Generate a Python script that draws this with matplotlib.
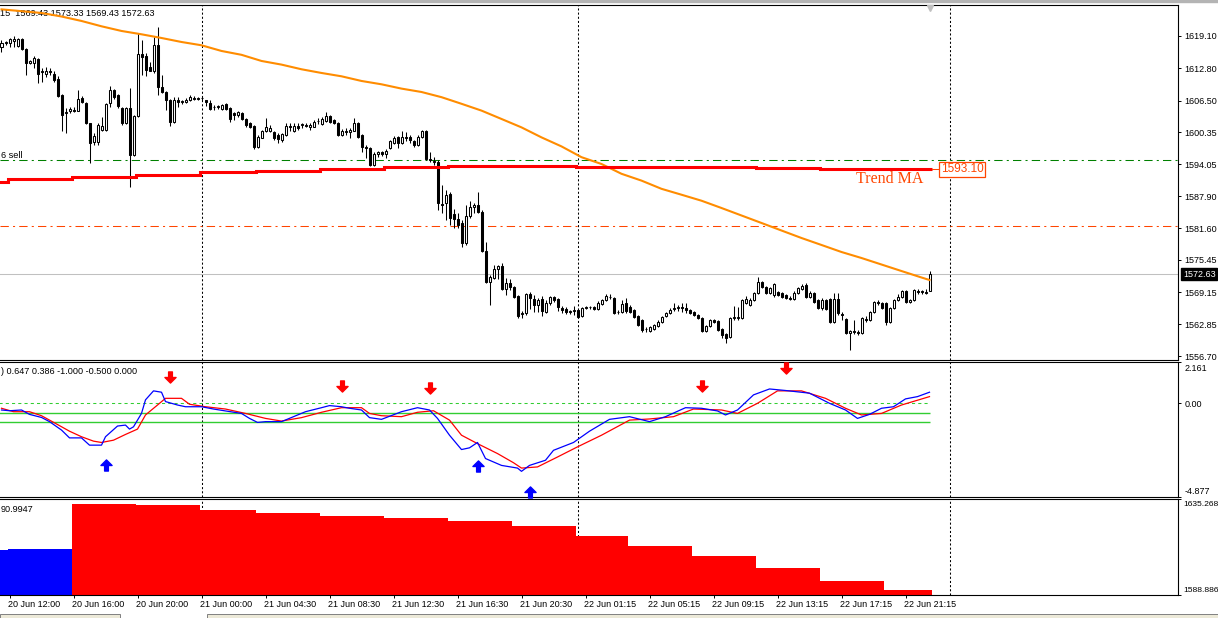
import numpy as np
import matplotlib
matplotlib.use('Agg')
import matplotlib.pyplot as plt
import matplotlib.transforms as mtransforms
from matplotlib.path import Path
from matplotlib.patches import Rectangle

# ---- price candles (M15), one value per bar ----
opens = [
    1616.9, 1617.7, 1617.7, 1618.2, 1617.2, 1618.5, 1616.5, 1613.9, 1613.9, 1614.6,
    1612.0, 1611.7, 1612.3, 1611.7, 1610.7, 1607.6, 1604.0, 1604.5, 1604.7, 1604.5,
    1607.1, 1606.1, 1602.1, 1598.5, 1598.5, 1600.8, 1600.8, 1606.0, 1608.6, 1607.6,
    1605.0, 1602.1, 1605.0, 1595.9, 1603.5, 1615.6, 1615.2, 1613.1, 1612.2, 1617.3,
    1609.1, 1608.2, 1606.6, 1602.4, 1606.7, 1606.2, 1606.3, 1606.6, 1607.1, 1606.9,
    1607.0, 1606.6, 1606.0, 1605.3, 1605.2, 1604.8, 1605.8, 1605.0, 1604.0, 1603.7,
    1604.0, 1603.0, 1602.1, 1601.6, 1597.5, 1599.3, 1600.5, 1600.6, 1600.3, 1599.8,
    1598.8, 1599.8, 1601.6, 1600.6, 1601.6, 1601.7, 1601.7, 1601.4, 1601.4, 1602.6,
    1601.9, 1602.6, 1603.5, 1602.7, 1602.2, 1599.8, 1600.3, 1600.3, 1600.6, 1602.2,
    1599.8, 1597.4, 1597.2, 1594.0, 1596.1, 1596.4, 1596.1, 1597.2, 1598.3, 1599.5,
    1598.2, 1599.5, 1599.5, 1598.7, 1597.8, 1599.5, 1600.6, 1595.2, 1594.6, 1594.5,
    1586.3, 1586.5, 1588.3, 1584.4, 1583.4, 1582.6, 1578.7, 1584.0, 1585.8, 1586.1,
    1584.8, 1577.2, 1571.1, 1571.9, 1573.7, 1574.2, 1569.8, 1570.9, 1570.2, 1568.4,
    1564.9, 1565.1, 1568.8, 1567.8, 1566.7, 1567.8, 1565.3, 1567.0, 1568.2, 1567.8,
    1566.1, 1565.9, 1565.3, 1565.5, 1565.7, 1564.5, 1566.1, 1566.2, 1566.3, 1565.9,
    1566.8, 1567.6, 1568.2, 1568.0, 1565.3, 1565.3, 1567.0, 1566.3, 1565.7, 1564.5,
    1563.7, 1562.0, 1561.6, 1562.0, 1562.6, 1563.3, 1564.5, 1565.1, 1565.9, 1566.1,
    1566.3, 1566.1, 1565.7, 1565.3, 1564.7, 1564.1, 1561.6, 1562.6, 1563.7, 1563.5,
    1562.0, 1561.0, 1560.4, 1564.1, 1564.1, 1564.1, 1567.0, 1566.7, 1567.6, 1569.0,
    1571.1, 1570.2, 1569.0, 1568.6, 1569.2, 1569.0, 1568.6, 1568.0, 1567.8, 1569.0,
    1569.8, 1570.5, 1568.2, 1569.0, 1567.6, 1566.1, 1567.6, 1567.8, 1563.3, 1567.8,
    1564.9, 1563.9, 1561.2, 1561.6, 1561.4, 1561.2, 1563.9, 1563.7, 1565.3, 1567.2,
    1567.0, 1567.0, 1563.3, 1566.1, 1567.6, 1568.2, 1569.4, 1567.2, 1567.6, 1569.4,
    1569.2, 1569.2, 1569.43,
]
highs = [
    1618.3, 1618.2, 1618.8, 1619.1, 1618.8, 1618.7, 1616.7, 1614.4, 1615.2, 1614.8,
    1612.8, 1613.1, 1612.8, 1612.2, 1611.3, 1607.8, 1605.0, 1605.2, 1605.2, 1608.6,
    1607.4, 1606.3, 1602.2, 1600.1, 1602.1, 1603.4, 1606.0, 1609.4, 1608.7, 1607.7,
    1605.3, 1605.2, 1609.0, 1603.7, 1619.6, 1618.3, 1615.7, 1614.1, 1619.0, 1620.9,
    1611.5, 1608.4, 1606.9, 1607.3, 1607.3, 1606.7, 1607.1, 1607.5, 1607.4, 1607.3,
    1607.4, 1606.7, 1606.7, 1605.6, 1605.6, 1605.8, 1606.0, 1605.2, 1604.3, 1604.5,
    1604.3, 1603.2, 1602.4, 1601.7, 1599.8, 1600.8, 1603.2, 1601.7, 1600.5, 1600.1,
    1600.2, 1602.2, 1602.1, 1602.2, 1602.1, 1602.2, 1602.1, 1602.2, 1602.7, 1603.2,
    1603.4, 1604.2, 1603.7, 1603.0, 1602.4, 1600.9, 1601.1, 1601.1, 1603.2, 1602.4,
    1600.0, 1597.8, 1597.4, 1596.4, 1596.7, 1596.7, 1597.0, 1598.8, 1599.6, 1599.6,
    1600.5, 1600.3, 1599.8, 1598.9, 1599.8, 1600.8, 1600.8, 1596.5, 1595.6, 1594.9,
    1590.0, 1589.1, 1588.7, 1585.4, 1584.6, 1583.2, 1586.1, 1586.9, 1586.5, 1588.7,
    1585.2, 1578.9, 1572.5, 1574.4, 1574.4, 1574.8, 1571.9, 1571.7, 1570.4, 1568.6,
    1565.5, 1569.0, 1569.2, 1568.6, 1568.0, 1568.4, 1567.6, 1568.4, 1568.4, 1568.0,
    1566.5, 1566.3, 1565.7, 1566.5, 1565.9, 1566.3, 1566.5, 1566.5, 1566.5, 1567.4,
    1567.8, 1568.8, 1568.8, 1568.2, 1565.7, 1567.6, 1568.0, 1566.7, 1565.9, 1564.7,
    1563.9, 1562.4, 1562.6, 1562.9, 1563.7, 1564.5, 1565.3, 1566.1, 1567.0, 1566.7,
    1567.0, 1567.0, 1565.9, 1565.5, 1564.9, 1564.3, 1562.7, 1563.9, 1563.9, 1563.7,
    1562.2, 1561.2, 1564.3, 1566.5, 1566.3, 1567.8, 1568.4, 1568.0, 1569.2, 1572.1,
    1571.3, 1570.4, 1570.2, 1570.9, 1569.4, 1569.2, 1568.8, 1568.4, 1569.4, 1570.2,
    1570.7, 1570.9, 1569.4, 1569.2, 1567.8, 1568.0, 1567.8, 1568.0, 1569.0, 1569.0,
    1565.3, 1564.1, 1561.8, 1563.7, 1561.8, 1564.3, 1564.5, 1565.5, 1567.4, 1567.6,
    1567.2, 1567.2, 1566.3, 1567.8, 1568.8, 1569.6, 1569.6, 1567.8, 1569.8, 1569.8,
    1569.6, 1569.8, 1573.33,
]
lows = [
    1616.0, 1617.4, 1617.0, 1617.0, 1617.0, 1616.4, 1611.5, 1613.6, 1612.8, 1609.9,
    1610.2, 1611.2, 1611.5, 1610.2, 1607.3, 1600.5, 1600.1, 1604.0, 1604.2, 1604.4,
    1606.0, 1601.9, 1594.3, 1597.8, 1597.8, 1600.5, 1600.5, 1605.3, 1606.9, 1605.0,
    1601.7, 1601.9, 1589.7, 1595.7, 1603.4, 1611.5, 1611.3, 1612.2, 1611.9, 1607.6,
    1608.0, 1604.7, 1601.6, 1602.2, 1605.3, 1605.8, 1606.0, 1606.5, 1606.6, 1606.6,
    1606.6, 1605.5, 1604.7, 1604.7, 1604.8, 1604.7, 1604.7, 1602.4, 1602.7, 1603.4,
    1602.7, 1601.4, 1601.1, 1597.0, 1597.2, 1599.2, 1600.3, 1600.3, 1598.8, 1598.3,
    1598.5, 1599.6, 1600.6, 1600.3, 1600.8, 1601.1, 1601.3, 1600.8, 1601.3, 1601.9,
    1601.7, 1602.4, 1602.1, 1601.9, 1599.6, 1599.6, 1599.8, 1599.2, 1600.5, 1599.3,
    1596.4, 1595.4, 1593.8, 1593.8, 1595.6, 1595.7, 1595.4, 1597.0, 1598.0, 1597.2,
    1598.0, 1598.7, 1598.2, 1597.5, 1597.7, 1599.3, 1595.0, 1594.6, 1594.0, 1585.2,
    1584.6, 1583.2, 1582.2, 1581.7, 1581.7, 1578.0, 1578.3, 1583.6, 1584.6, 1584.6,
    1577.0, 1570.9, 1566.6, 1571.7, 1571.7, 1569.6, 1568.6, 1569.6, 1568.0, 1564.1,
    1564.1, 1564.7, 1565.9, 1565.3, 1565.3, 1564.5, 1565.1, 1566.7, 1567.2, 1565.5,
    1565.1, 1564.9, 1564.9, 1564.7, 1564.1, 1564.3, 1565.9, 1565.9, 1565.7, 1565.7,
    1566.7, 1567.4, 1567.8, 1564.9, 1564.9, 1565.1, 1565.1, 1565.1, 1564.1, 1562.6,
    1561.4, 1561.4, 1561.4, 1561.8, 1562.4, 1563.1, 1564.3, 1564.9, 1565.5, 1565.5,
    1565.3, 1565.1, 1564.9, 1564.5, 1563.9, 1561.4, 1561.4, 1562.4, 1563.1, 1561.6,
    1560.2, 1559.2, 1560.2, 1563.7, 1563.7, 1563.9, 1566.8, 1566.5, 1567.4, 1568.8,
    1570.0, 1568.8, 1568.8, 1568.2, 1568.4, 1568.0, 1567.8, 1567.6, 1567.6, 1568.8,
    1569.6, 1568.0, 1568.0, 1567.0, 1565.9, 1565.7, 1565.7, 1563.1, 1563.1, 1564.7,
    1563.7, 1561.0, 1557.9, 1561.0, 1560.8, 1561.0, 1563.3, 1563.5, 1565.1, 1566.7,
    1565.9, 1562.8, 1563.1, 1565.9, 1567.4, 1568.0, 1567.0, 1567.0, 1567.4, 1568.8,
    1568.8, 1568.8, 1569.43,
]
closes = [
    1617.8, 1617.9, 1618.5, 1618.5, 1618.5, 1616.5, 1613.8, 1614.2, 1614.9, 1611.7,
    1612.2, 1612.3, 1612.0, 1610.5, 1607.4, 1603.7, 1604.3, 1604.8, 1604.5, 1606.9,
    1606.3, 1602.1, 1598.3, 1599.6, 1601.7, 1601.6, 1605.8, 1608.6, 1607.3, 1605.5,
    1602.2, 1605.0, 1595.9, 1603.5, 1615.6, 1615.1, 1612.5, 1612.3, 1617.3, 1609.1,
    1608.2, 1606.6, 1602.4, 1606.7, 1606.3, 1606.5, 1606.7, 1607.3, 1606.9, 1607.0,
    1607.1, 1606.3, 1604.8, 1605.2, 1605.5, 1605.6, 1604.8, 1603.0, 1603.7, 1604.3,
    1603.0, 1601.7, 1601.3, 1597.5, 1599.5, 1600.5, 1601.3, 1601.2, 1599.2, 1599.0,
    1600.0, 1601.6, 1601.3, 1601.6, 1601.1, 1601.9, 1601.6, 1601.8, 1602.3, 1602.5,
    1603.0, 1603.5, 1602.4, 1602.2, 1599.8, 1600.6, 1600.6, 1600.8, 1602.1, 1599.5,
    1597.4, 1597.2, 1594.0, 1596.1, 1596.4, 1596.1, 1596.7, 1598.6, 1599.3, 1598.2,
    1599.5, 1599.3, 1598.8, 1597.8, 1599.5, 1600.6, 1595.2, 1594.9, 1594.8, 1586.5,
    1586.1, 1588.1, 1583.6, 1583.4, 1582.2, 1578.7, 1584.0, 1585.8, 1586.1, 1584.8,
    1577.2, 1571.1, 1572.1, 1573.7, 1574.2, 1569.8, 1570.9, 1570.2, 1568.2, 1564.5,
    1565.1, 1568.8, 1568.0, 1566.7, 1567.6, 1565.5, 1567.0, 1568.2, 1567.6, 1566.3,
    1565.7, 1565.3, 1565.5, 1565.7, 1564.3, 1566.1, 1566.3, 1566.3, 1565.9, 1567.0,
    1567.6, 1568.4, 1568.3, 1565.1, 1565.2, 1566.8, 1565.5, 1565.3, 1564.3, 1562.8,
    1561.8, 1561.9, 1562.4, 1562.7, 1563.3, 1564.3, 1565.1, 1565.7, 1566.1, 1566.2,
    1566.1, 1565.7, 1565.1, 1564.7, 1564.1, 1561.6, 1562.6, 1563.7, 1563.3, 1561.8,
    1560.8, 1560.2, 1564.1, 1564.3, 1564.3, 1567.6, 1567.8, 1567.6, 1569.0, 1571.1,
    1570.2, 1569.0, 1570.0, 1570.7, 1568.6, 1568.2, 1568.0, 1567.8, 1569.0, 1570.0,
    1570.4, 1568.2, 1569.0, 1567.2, 1566.1, 1567.6, 1565.9, 1563.3, 1567.8, 1565.1,
    1564.7, 1561.2, 1561.6, 1561.4, 1561.2, 1564.1, 1563.8, 1565.3, 1567.2, 1567.0,
    1566.1, 1563.3, 1566.1, 1567.6, 1568.2, 1569.4, 1567.2, 1567.6, 1569.6, 1569.2,
    1569.3, 1569.0, 1572.63,
]

# orange moving average (sampled bars)
ma_idx = [0, 5, 10, 15, 20, 25, 30, 35, 40, 45, 50, 55, 60, 65, 70, 75, 80, 85, 90, 95,
          100, 105, 110, 115, 120, 125, 130, 135, 140, 145, 150, 155, 160, 165, 170, 175,
          180, 185, 190, 195, 200, 205, 210, 215, 220, 225, 230, 232]
ma_vals = [1624.29, 1623.94, 1623.59, 1622.90, 1622.03, 1620.99, 1620.08, 1619.43, 1618.71,
           1617.93, 1617.29, 1616.18, 1615.43, 1614.23, 1613.52, 1612.61, 1611.89, 1611.24,
           1610.33, 1609.68, 1608.84, 1608.18, 1607.17, 1605.88, 1604.55, 1602.92, 1601.28,
           1599.33, 1597.57, 1595.47, 1594.14, 1592.23, 1590.90, 1589.30, 1588.15, 1586.98,
           1585.56, 1584.10, 1582.64, 1581.17, 1579.71, 1578.35, 1576.98, 1575.81, 1574.54,
           1573.27, 1572.01, 1571.52]

# H4 segments (first bar of each) for Trend MA and the lower histogram
seg_start = [0, 2, 18, 34, 50, 64, 80, 96, 112, 128, 144, 157, 173, 189, 205, 221]
trend_ma = [1590.6, 1591.15, 1591.6, 1592.0, 1592.55, 1592.75, 1593.1, 1593.55,
            1593.75, 1593.75, 1593.55, 1593.55, 1593.55, 1593.3, 1593.1, 1593.1]
hist_vals = [1610.15, 1611.11, 1632.37, 1631.89, 1629.95, 1628.50, 1627.05, 1625.61,
             1624.16, 1621.74, 1617.39, 1612.08, 1607.25, 1601.93, 1595.65, 1590.9947]
hist_up = [True, True] + [False] * 14

sell_level = 1594.92
stop_level = 1582.05
bid = 1572.63

# oscillator panel
blue_idx = [0, 2, 5, 7, 10, 12, 15, 17, 20, 22, 25, 26, 29, 31, 32, 33, 35, 36, 38, 40,
            41, 44, 46, 50, 53, 56, 60, 62, 64, 66, 70, 73, 76, 80, 82, 85, 87, 90, 92, 95,
            100, 104, 107, 109, 112, 115, 117, 119, 121, 125, 129, 130, 132, 136, 138, 143,
            147, 152, 157, 162, 166, 171, 175, 179, 181, 184, 188, 192, 196, 202, 207, 211,
            214, 217, 220, 223, 226, 229, 232]
blue_vals = [-0.35, -0.39, -0.35, -0.58, -0.74, -0.96, -1.40, -1.81, -1.81, -2.19,
             -2.19, -1.75, -1.19, -1.14, -1.35, -1.23, -0.53, 0.18, 0.65, 0.58,
             0.09, -0.09, -0.18, -0.18, -0.30, -0.40, -0.53, -0.79, -1.0, -0.96,
             -0.96, -0.70, -0.44, -0.23, -0.12, -0.18, -0.26, -0.35, -0.75, -0.84,
             -0.44, -0.23, -0.35, -0.79, -1.67, -2.42, -2.33, -2.05, -2.89, -3.25,
             -3.39, -3.56, -3.25, -2.98, -2.46, -2.05, -1.46, -0.84, -0.70, -0.96,
             -0.70, -0.23, -0.26, -0.40, -0.61, -0.35, 0.44, 0.75, 0.67, 0.53,
             0.0, -0.35, -0.79, -0.58, -0.26, -0.18, 0.23, 0.35, 0.58]
red_idx = [0, 3, 7, 10, 14, 17, 20, 23, 25, 28, 31, 34, 36, 39, 41, 45, 47, 51, 56, 61,
           66, 70, 75, 80, 85, 90, 92, 95, 100, 104, 108, 112, 115, 119, 124, 128, 130, 134,
           139, 144, 150, 157, 162, 168, 173, 180, 184, 189, 194, 200, 206, 211, 215, 220,
           225, 232]
red_vals = [-0.26, -0.44, -0.44, -0.65, -1.11, -1.46, -1.75, -1.98, -2.05, -1.93,
            -1.63, -1.35, -0.61, -0.09, 0.26, 0.26, -0.05, -0.18, -0.30, -0.53,
            -0.79, -0.93, -0.75, -0.47, -0.23, -0.23, -0.53, -0.65, -0.70, -0.47,
            -0.39, -0.88, -1.67, -2.11, -2.63, -3.11, -3.39, -3.33, -2.81, -2.28,
            -1.67, -0.88, -0.82, -0.70, -0.30, -0.35, -0.53, 0.0, 0.65, 0.65,
            0.26, -0.26, -0.61, -0.53, -0.09, 0.35]
osc_levels = [-0.5, -1.0]
sell_arrows_idx = [42, 85, 107, 175, 196]
sell_arrows_val = [1.38, 0.91, 0.81, 0.91, 1.86]
buy_arrows_idx = [26, 119, 132]
buy_arrows_val = [-3.25, -3.30, -4.62]

price_ticks = [1619.10, 1612.80, 1606.50, 1600.35, 1594.05, 1587.90, 1581.60,
               1575.45, 1569.15, 1562.85, 1556.70]
day_breaks = [50, 144, 237]
time_idx = [2, 18, 34, 50, 66, 82, 98, 114, 130, 146, 162, 178, 194, 210, 226]
time_labels = ['20 Jun 12:00', '20 Jun 16:00', '20 Jun 20:00', '21 Jun 00:00',
               '21 Jun 04:30', '21 Jun 08:30', '21 Jun 12:30', '21 Jun 16:30',
               '21 Jun 20:30', '22 Jun 01:15', '22 Jun 05:15', '22 Jun 09:15',
               '22 Jun 13:15', '22 Jun 17:15', '22 Jun 21:15']

plt.rcParams['font.family'] = ['Liberation Sans', 'DejaVu Sans']
plt.rcParams['font.size'] = 6.5

W, H = 1218, 618
fig = plt.figure(figsize=(W / 100, H / 100), dpi=100)
fig.patch.set_facecolor('white')


def panel(top, bottom):
    return [0, 1 - bottom / H, 1178 / W, (bottom - top) / H]


ax = fig.add_axes(panel(4.5, 359.5))
ax2 = fig.add_axes(panel(362, 496.5), sharex=ax)
ax3 = fig.add_axes(panel(498.5, 594.5), sharex=ax)

px = 1 / 100  # one pixel in inches
for a in (ax, ax2, ax3):
    a.set_xlim(-0.375, 294.125)
    a.spines['left'].set_visible(False)
    for s in ('top', 'right', 'bottom'):
        a.spines[s].set_linewidth(0.8)
        a.spines[s].set_color('black')
    a.yaxis.tick_right()
    a.tick_params(axis='y', length=2.2, width=0.7, pad=2.5, labelsize=6.5)
    for b in day_breaks:
        a.axvline(b, color='black', lw=0.75, ls=(0, (2, 2)), zorder=1)

# ---- main price panel ----
ax.set_ylim(1556.02, 1625.24)
x = np.arange(len(closes))
o, h, l, c = map(np.array, (opens, highs, lows, closes))
up = c >= o
ax.vlines(x, l, h, color='black', lw=0.75, zorder=3)
lo = np.minimum(o, c)
ht = np.maximum(np.abs(c - o), 0.04)
ax.bar(x[up], ht[up], bottom=lo[up], width=0.5, color='white', edgecolor='black',
       lw=0.75, zorder=4)
ax.bar(x[~up], ht[~up], bottom=lo[~up], width=0.5, color='black', edgecolor='black',
       lw=0.75, zorder=4)

ax.plot(ma_idx, ma_vals, color='#FF8C00', lw=1.5, zorder=5)

edges = np.array(seg_start + [len(closes)]) - 0.5
ax.stairs(trend_ma, edges, baseline=None, color='#FF0000', lw=2.2, zorder=5)

last = len(closes) - 1
ax.axhline(sell_level, color='#008000', lw=0.75, ls=(0, (8, 4, 2, 4)), zorder=2)
ax.axhline(stop_level, color='#FF4500', lw=0.75, ls=(0, (8, 4, 2, 4)), zorder=2)
ax.axhline(bid, color='#C0C0C0', lw=0.75, zorder=2)

ax.plot([last + 0.5, last + 2.8], [trend_ma[-1]] * 2, color='#FF4500', lw=0.75, zorder=5)
ax.text(last + 2.8, trend_ma[-1], '%.2f' % trend_ma[-1], color='#FF4500', fontsize=8.5,
        ha='left', va='center', zorder=6,
        bbox=dict(facecolor='white', edgecolor='#FF4500', lw=0.9, pad=1.2))
ax.text(last - 1.5, trend_ma[-1] - 1.9, 'Trend MA', color='#FF4500', fontsize=11.5,
        family=['Liberation Serif', 'DejaVu Serif'], ha='right', va='center', zorder=6)

ax.set_yticks(price_ticks)
ax.set_yticklabels(['%.2f' % v for v in price_ticks])
ax.tick_params(axis='x', bottom=False, labelbottom=False)

ax.text(1 + 5 / 1178, bid, '%.2f' % bid, transform=mtransforms.blended_transform_factory(
    ax.transAxes, ax.transData), color='white', ha='left', va='center', fontsize=6.5,
    clip_on=False, zorder=10,
    bbox=dict(facecolor='black', edgecolor='black', pad=1.2))

ax.plot([last], [0.99], marker='v', color='#C0C0C0', ms=5,
        transform=mtransforms.blended_transform_factory(ax.transData, ax.transAxes),
        clip_on=False, zorder=6)

# texts of the window that start left of the visible area: show only what is visible
ax.text(0.5 / 1178, 0.976, '15  1569.43 1573.33 1569.43 1572.63', transform=ax.transAxes,
        ha='left', va='center', fontsize=6.6, zorder=1)
ax.text(1 / 1178, sell_level + 0.9, '6 sell', ha='left', va='center', fontsize=6.6,
        transform=mtransforms.blended_transform_factory(ax.transAxes, ax.transData))

# ---- oscillator panel ----
ax2.set_ylim(-4.877, 2.161)
ax2.hlines(0, -0.5, last, color='#32CD32', lw=0.75, ls=(0, (3, 3)), zorder=2)
ax2.hlines(osc_levels, -0.5, last, color='#32CD32', lw=1.0, zorder=2)
ax2.plot(red_idx, red_vals, color='#FF0000', lw=0.9, zorder=3)
ax2.plot(blue_idx, blue_vals, color='#0000FF', lw=0.9, zorder=4)

down = Path([(-0.17, 0.5), (0.17, 0.5), (0.17, 0.0), (0.5, 0.0), (0.0, -0.5),
             (-0.5, 0.0), (-0.17, 0.0), (-0.17, 0.5)], closed=True)
upm = Path([(vx, -vy) for vx, vy in down.vertices], closed=True)
ax2.plot(sell_arrows_idx, sell_arrows_val, ls='none', marker=down, ms=8,
         color='#FF0000', zorder=6, clip_on=False)
ax2.plot(buy_arrows_idx, buy_arrows_val, ls='none', marker=upm, ms=8,
         color='#0000FF', zorder=6, clip_on=False)

ax2.set_yticks([2.161, 0.0, -4.877])
ax2.set_yticklabels(['2.161', '0.00', '-4.877'])
labs = ax2.get_yticklabels()
labs[0].set_va('top')
labs[0].set_transform(labs[0].get_transform() +
                      mtransforms.ScaledTranslation(0, -2 * px, fig.dpi_scale_trans))
labs[2].set_va('bottom')
labs[2].set_transform(labs[2].get_transform() +
                      mtransforms.ScaledTranslation(0, 1 * px, fig.dpi_scale_trans))
ax2.tick_params(axis='x', bottom=False, labelbottom=False)
ax2.text(1 / 1178, 0.933, ') 0.647 0.386 -1.000 -0.500 0.000', transform=ax2.transAxes,
         ha='left', va='center', fontsize=6.6)

# ---- histogram panel ----
hlo, hhi = 1588.886, 1635.268
ax3.set_ylim(hlo, hhi)
for k, v in enumerate(hist_vals):
    ax3.bar(edges[k], v - hlo, bottom=hlo, width=edges[k + 1] - edges[k], align='edge',
            color='#0000FF' if hist_up[k] else '#FF0000', lw=0, zorder=2)
ax3.set_yticks([hhi, hlo])
ax3.set_yticklabels(['%.3f' % hhi, '%.3f' % hlo])
ax3.tick_params(axis='y', pad=1.6, labelsize=6.1)
labs = ax3.get_yticklabels()
labs[0].set_va('top')
labs[0].set_transform(labs[0].get_transform() +
                      mtransforms.ScaledTranslation(0, -2 * px, fig.dpi_scale_trans))
labs[1].set_va('bottom')
labs[1].set_transform(labs[1].get_transform() +
                      mtransforms.ScaledTranslation(0, 1 * px, fig.dpi_scale_trans))
ax3.text(1 / 1178, 0.89, ('%.4f' % hist_vals[-1])[2:], transform=ax3.transAxes,
         ha='left', va='center', fontsize=6.6)

ax3.set_xticks(time_idx)
ax3.set_xticklabels(time_labels)
ax3.tick_params(axis='x', length=2.5, width=0.7, pad=1.5, labelsize=6.5)
for lab in ax3.get_xticklabels():
    lab.set_ha('left')
    lab.set_transform(lab.get_transform() +
                      mtransforms.ScaledTranslation(-1.5 * px, 0, fig.dpi_scale_trans))

# window chrome: grey strip on top, tab bar at the bottom
fig.patches.append(Rectangle((0, 1 - 2 / H), 1, 2 / H, transform=fig.transFigure,
                             color='#B4B4B4', zorder=0))
fig.patches.append(Rectangle((0, 0), 120 / W, 4 / H, transform=fig.transFigure,
                             facecolor='#ECE9D8', edgecolor='#808080', lw=0.7))
fig.patches.append(Rectangle((207 / W, 0), 1, 4 / H, transform=fig.transFigure,
                             facecolor='#ECE9D8', edgecolor='#808080', lw=0.7))

fig.savefig('out.png', dpi=100)
